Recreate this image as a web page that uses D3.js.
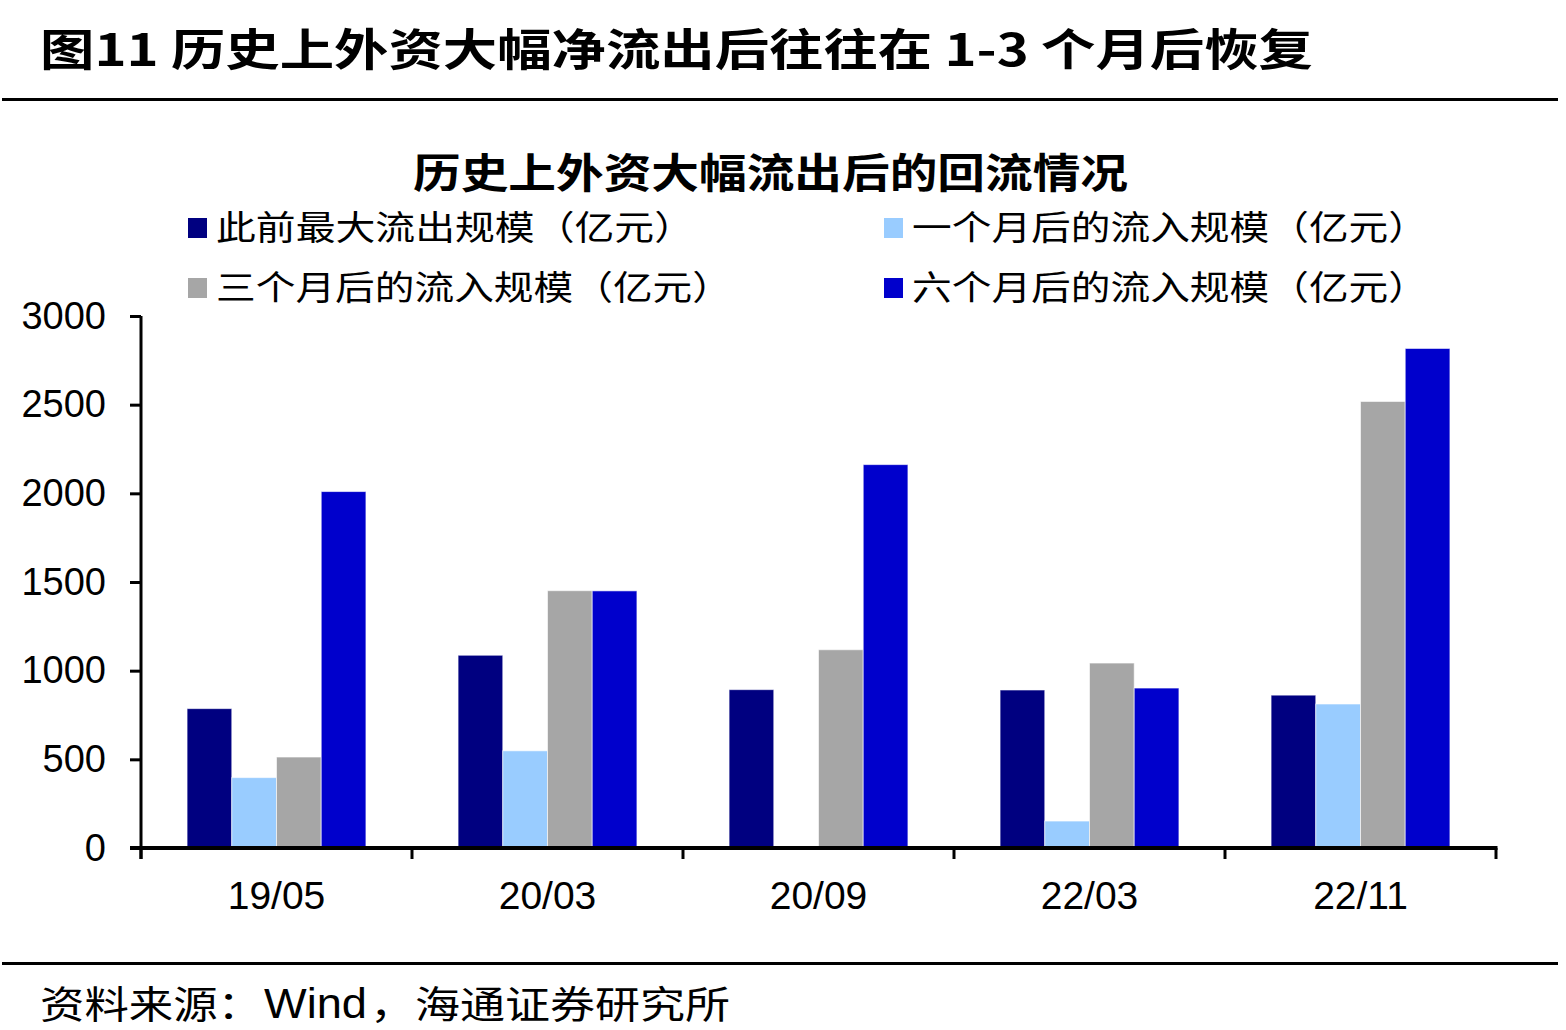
<!DOCTYPE html>
<html>
<head>
<meta charset="utf-8">
<script src="https://cdn.jsdelivr.net/npm/d3@7"></script>
<style>
  html, body { margin: 0; padding: 0; background: #fff; }
  svg { display: block; }
</style>
</head>
<body>
<svg id="chart" width="1566" height="1030"></svg>
<script>
// ---- data ----
const categories = ["19/05", "20/03", "20/09", "22/03", "22/11"];
const seriesNames = [
  "此前最大流出规模（亿元）",
  "一个月后的流入规模（亿元）",
  "三个月后的流入规模（亿元）",
  "六个月后的流入规模（亿元）"
];
const maxOutflow   = [786, 1087, 893, 891, 862];
const inflow1m     = [397, 548, null, 152, 812];
const inflow3m     = [513, 1451, 1118, 1043, 2518];
const inflow6m     = [2010, 1450, 2162, 902, 2817];
const yTicks = [0, 500, 1000, 1500, 2000, 2500, 3000];

const seriesValues = [maxOutflow, inflow1m, inflow3m, inflow6m];
const colors = ["#000080", "#99CCFF", "#A6A6A6", "#0000CC"];

const titleText = "图11 历史上外资大幅净流出后往往在 1-3 个月后恢复";
const chartTitle = "历史上外资大幅流出后的回流情况";
const sourceLabel = "资料来源：";
const sourceWind = "Wind";
const sourceRest = "，海通证券研究所";

const CJK = "'Noto Sans CJK SC', 'Noto Sans', sans-serif";
const LAT = "'Liberation Sans', Arial, sans-serif";

const svg = d3.select("#chart");

// ---- header ----
svg.append("text")
  .attr("x", 40).attr("y", 66)
  .attr("font-family", CJK).attr("font-weight", "bold")
  .attr("font-size", 44).attr("fill", "#000")
  .attr("textLength", 1273).attr("lengthAdjust", "spacingAndGlyphs")
  .text(titleText);

svg.append("line")
  .attr("x1", 2).attr("x2", 1558).attr("y1", 99.5).attr("y2", 99.5)
  .attr("stroke", "#000").attr("stroke-width", 3);

// chart title
svg.append("text")
  .attr("x", 413).attr("y", 188)
  .attr("font-family", CJK).attr("font-weight", "bold")
  .attr("font-size", 41).attr("fill", "#000")
  .attr("textLength", 715).attr("lengthAdjust", "spacingAndGlyphs")
  .text(chartTitle);

// ---- legend ----
const legendPos = [
  {x: 188, y: 228, tx: 216, tw: 478},
  {x: 884, y: 228, tx: 912, tw: 516},
  {x: 188, y: 288, tx: 216, tw: 516},
  {x: 884, y: 288, tx: 912, tw: 516}
];
const lg = svg.append("g");
seriesNames.forEach((name, i) => {
  const p = legendPos[i];
  lg.append("rect")
    .attr("x", p.x).attr("y", p.y - 10).attr("width", 19).attr("height", 20)
    .attr("fill", colors[i]);
  lg.append("text")
    .attr("x", p.tx).attr("y", p.y + 12)
    .attr("font-family", CJK).attr("font-size", 34).attr("fill", "#000")
    .attr("textLength", p.tw).attr("lengthAdjust", "spacingAndGlyphs")
    .text(name);
});

// ---- scales ----
const plotLeft = 141, plotRight = 1496, plotTop = 316, plotBottom = 848;
const y = d3.scaleLinear().domain([0, 3000]).range([plotBottom, plotTop]);
const x0 = d3.scaleBand().domain(categories).range([plotLeft, plotRight])
  .paddingInner(0.34).paddingOuter(0.17);
const x1 = d3.scaleBand().domain(d3.range(seriesNames.length)).range([0, x0.bandwidth()]);
const xb = d3.scaleBand().domain(categories).range([plotLeft, plotRight]);

// ---- bars ----
const barsG = svg.append("g");
categories.forEach((c, ci) => {
  seriesValues.forEach((vals, si) => {
    const v = vals[ci];
    if (v == null) return;
    barsG.append("rect")
      .attr("x", x0(c) + x1(si))
      .attr("y", y(v))
      .attr("width", x1.bandwidth())
      .attr("height", y(0) - y(v))
      .attr("fill", colors[si])
      .attr("stroke", "#ffffff").attr("stroke-opacity", 0.6).attr("stroke-width", 1);
  });
});

// ---- y axis ----
const yAxis = d3.axisLeft(y).tickValues(yTicks).tickFormat(d3.format("d"))
  .tickSize(11).tickPadding(24).tickSizeOuter(0);
const yg = svg.append("g").attr("transform", `translate(${plotLeft},0)`).call(yAxis);
yg.select(".domain").attr("stroke", "#000").attr("stroke-width", 3)
  .attr("d", `M0,${plotTop}V${plotBottom + 11}`);
yg.selectAll(".tick line").attr("stroke", "#000").attr("stroke-width", 3);
yg.selectAll(".tick text")
  .attr("font-family", LAT).attr("font-size", 38).attr("fill", "#000");

// ---- x axis ----
const xg = svg.append("g").attr("transform", `translate(0,${plotBottom})`);
xg.append("line")
  .attr("x1", plotLeft - 11).attr("x2", plotRight + 1.5).attr("y1", 0).attr("y2", 0)
  .attr("stroke", "#000").attr("stroke-width", 4);
const boundaries = categories.map(c => xb(c)).concat([plotRight]);
xg.selectAll("line.xt").data(boundaries).enter().append("line")
  .attr("class", "xt")
  .attr("x1", d => d).attr("x2", d => d).attr("y1", 0).attr("y2", 11)
  .attr("stroke", "#000").attr("stroke-width", 3);
xg.selectAll("text.xl").data(categories).enter().append("text")
  .attr("class", "xl")
  .attr("x", d => xb(d) + xb.bandwidth() / 2)
  .attr("y", 61)
  .attr("text-anchor", "middle")
  .attr("font-family", LAT).attr("font-size", 39).attr("fill", "#000")
  .text(d => d);

// ---- footer ----
svg.append("line")
  .attr("x1", 2).attr("x2", 1558).attr("y1", 963.5).attr("y2", 963.5)
  .attr("stroke", "#000").attr("stroke-width", 3);

const foot = svg.append("g");
foot.append("text")
  .attr("x", 40).attr("y", 1018)
  .attr("font-family", CJK).attr("font-size", 38).attr("fill", "#000")
  .attr("textLength", 222).attr("lengthAdjust", "spacingAndGlyphs")
  .text(sourceLabel);
foot.append("text")
  .attr("x", 264).attr("y", 1018)
  .attr("font-family", LAT).attr("font-size", 42).attr("fill", "#000")
  .attr("textLength", 103).attr("lengthAdjust", "spacingAndGlyphs")
  .text(sourceWind);
foot.append("text")
  .attr("x", 370).attr("y", 1018)
  .attr("font-family", CJK).attr("font-size", 38).attr("fill", "#000")
  .attr("textLength", 360).attr("lengthAdjust", "spacingAndGlyphs")
  .text(sourceRest);
</script>
</body>
</html>
